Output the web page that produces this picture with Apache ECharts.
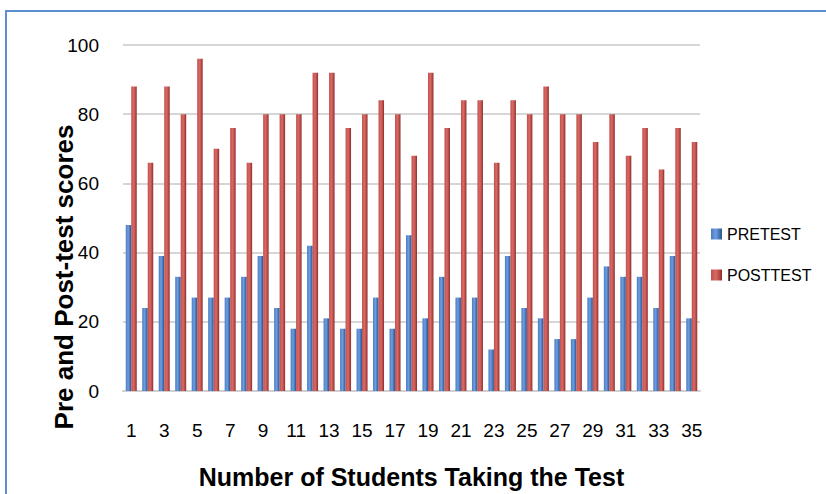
<!DOCTYPE html>
<html>
<head>
<meta charset="utf-8">
<script src="https://cdn.jsdelivr.net/npm/echarts@6/dist/echarts.min.js"></script>
<style>
  html, body { margin: 0; padding: 0; background: #fff; }
  #frame { position: absolute; left: 5px; top: 10px; width: 900px; height: 600px;
           border-left: 2px solid #5b8fd0; border-top: 2px solid #5b8fd0; }
  #chart { position: absolute; left: 0; top: 0; width: 826px; height: 494px; }
</style>
</head>
<body>
<div id="frame"></div>
<div id="chart"></div>
<script>
var students = [];
for (var i = 1; i <= 35; i++) { students.push(String(i)); }
var pretest = [48, 24, 39, 33, 27, 27, 27, 33, 39, 24, 18, 42, 21, 18, 18, 27, 18, 45, 21, 33,
               27, 27, 12, 39, 24, 21, 15, 15, 27, 36, 33, 33, 24, 39, 21];
var posttest = [88, 66, 88, 80, 96, 70, 76, 66, 80, 80, 80, 92, 92, 76, 80, 84, 80, 68, 92, 76,
                84, 84, 66, 84, 80, 88, 80, 80, 72, 80, 68, 76, 64, 76, 72];

var font = '"Liberation Sans", sans-serif';

function shade(light, mid, dark, edge) {
  return new echarts.graphic.LinearGradient(0, 0, 1, 0, [
    { offset: 0, color: mid },
    { offset: 0.45, color: light },
    { offset: 0.8, color: dark },
    { offset: 1, color: edge }
  ]);
}

var chart = echarts.init(document.getElementById('chart'), null, { renderer: 'svg' });
chart.setOption({
  animation: false,
  grid: { left: 123, right: 126, top: 45, bottom: 102 },
  legend: {
    orient: 'vertical',
    left: 706,
    top: 221,
    itemWidth: 11,
    itemHeight: 11,
    itemGap: 25,
    icon: 'rect',
    textStyle: { color: '#000', fontSize: 16, fontFamily: font },
    data: ['PRETEST', 'POSTTEST']
  },
  graphic: [{
    type: 'text',
    x: 64,
    y: 277,
    rotation: Math.PI / 2,
    style: {
      text: 'Pre and Post-test scores',
      align: 'center',
      verticalAlign: 'middle',
      fill: '#000',
      font: 'bold 26px ' + font
    }
  }],
  xAxis: {
    type: 'category',
    data: students,
    name: 'Number of Students Taking the Test',
    nameLocation: 'middle',
    nameGap: 73,
    nameTextStyle: { color: '#000', fontSize: 25, fontWeight: 'bold', fontFamily: font },
    axisLine: { show: true, lineStyle: { color: '#d0d0d0', width: 2 } },
    axisTick: { show: false },
    axisLabel: { interval: 1, color: '#000', fontSize: 19, margin: 30, fontFamily: font }
  },
  yAxis: {
    type: 'value',
    min: 0,
    max: 100,
    interval: 20,
    axisLine: { show: false },
    axisTick: { show: false },
    splitLine: { lineStyle: { color: '#d6d6d6', width: 2 } },
    axisLabel: { color: '#000', fontSize: 19, margin: 24, fontFamily: font }
  },
  series: [
    {
      name: 'PRETEST',
      type: 'bar',
      data: pretest,
      barWidth: 5.5,
      barGap: '0%',
      itemStyle: { color: shade('#6f9ee0', '#4a7cc2', '#3f6eb0', '#2b5790') }
    },
    {
      name: 'POSTTEST',
      type: 'bar',
      data: posttest,
      barWidth: 5.5,
      itemStyle: { color: shade('#d86a66', '#c0504d', '#b24542', '#862c2a') }
    }
  ]
});
</script>
</body>
</html>
